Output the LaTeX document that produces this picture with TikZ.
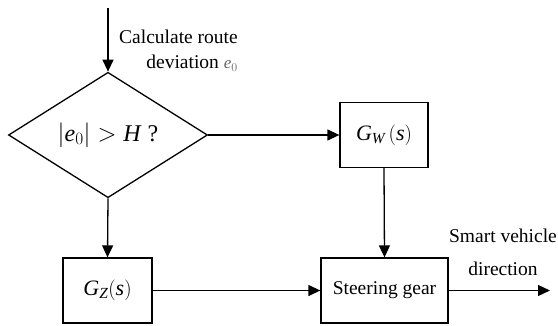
\documentclass[tikz,border=0pt]{standalone}
\usepackage{amsmath}
\usepackage{fontspec}
\setmainfont{Liberation Serif}
\usetikzlibrary{shapes.geometric, arrows.meta}
\tikzstyle{blk} = [draw, line width=1.3pt, inner sep=0pt]
\tikzstyle{flow} = [line width=1.3pt, -{Triangle[length=12pt,width=11pt]}]
\newcommand{\lbl}{\fontsize{19.5}{25}\selectfont}
\newcommand{\vi}[1]{\text{\itshape #1}}

\begin{document}
\begin{tikzpicture}[x=1pt, y=1pt]
    \useasboundingbox (0,0) rectangle (558,325);

    % Input and decision
    \coordinate (in) at (108,317);
    \node[blk, diamond, minimum width=199pt, minimum height=104pt] (dec) at (108,190)
        {\fontsize{24}{24}\selectfont$\left|\vi{e}_0\right| > \vi{H}\;\text{?}$};
    \node[align=right, anchor=north west, inner sep=0pt, font=\lbl] (calc) at (119,295)
        {Calculate route\\ deviation {\fontsize{17}{17}\selectfont\color{black!60}$\vi{e}_0$}};

    % Blocks
    \node[blk, minimum width=88pt, minimum height=65pt] (gw) at (384,190)
        {\fontsize{22}{22}\selectfont$\vi{G}_{\vi{W}}\,(\vi{s})$};
    \node[blk, minimum width=89pt, minimum height=65pt] (gz) at (107.5,34.5)
        {\fontsize{22}{22}\selectfont$\vi{G}_{\vi{Z}}(\vi{s})$};
    \node[blk, minimum width=127pt, minimum height=65pt, font=\lbl] (sg) at (384.5,34.5)
        {Steering gear};
    \coordinate (out) at (550,34.5);
    \node[align=center, inner sep=0pt, font=\lbl] (dir) at (503,73)
        {Smart vehicle\\[8pt] direction};

    % Connections
    \draw[flow] (in) -- (dec.north);
    \draw[flow] (dec.east) -- (gw.west);
    \draw[flow] (dec.south) -- (gz.north);
    \draw[flow] (gw.south) -- (sg.north);
    \draw[flow] (gz.east) -- (sg.west);
    \draw[flow] (sg.east) -- (out);
\end{tikzpicture}
\end{document}
